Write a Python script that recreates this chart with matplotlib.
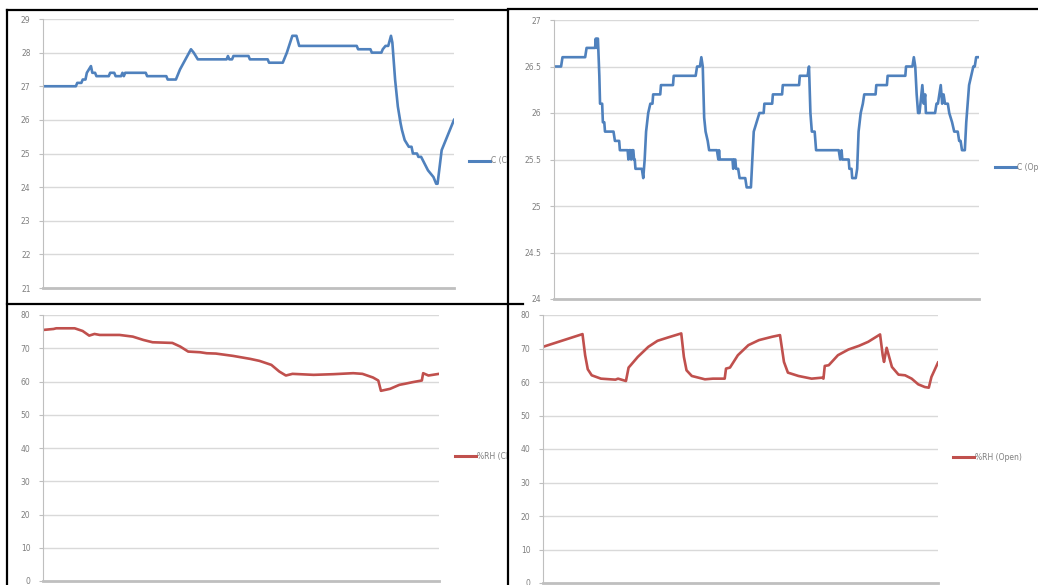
# Four Excel-style sensor panels: temperature and %RH, closed vs open

import matplotlib
matplotlib.use('Agg')
import matplotlib.pyplot as plt
from matplotlib.lines import Line2D
from matplotlib.transforms import Bbox, TransformedBbox

# ---- data (sample index, reading) ----
t_closed_idx = [0, 24, 25, 28, 29, 31, 32, 35, 36, 38, 39, 48, 49, 52, 53, 57, 58, 59, 60, 75,
                76, 90, 91, 97, 100, 104, 108, 110, 113, 134, 135, 136, 138, 139, 150, 151,
                164, 165, 175, 178, 182, 185, 187, 229, 230, 239, 240, 247, 248, 250, 252,
                254, 255, 257, 259, 261, 262, 264, 267, 269, 270, 273, 274, 276, 281, 285,
                286, 287, 288, 291, 295, 300]
t_closed = [27.0, 27.0, 27.1, 27.1, 27.2, 27.2, 27.4, 27.6, 27.4, 27.4, 27.3, 27.3, 27.4, 27.4,
            27.3, 27.3, 27.4, 27.3, 27.4, 27.4, 27.3, 27.3, 27.2, 27.2, 27.5, 27.8, 28.1, 28.0,
            27.8, 27.8, 27.9, 27.8, 27.8, 27.9, 27.9, 27.8, 27.8, 27.7, 27.7, 28.0, 28.5, 28.5,
            28.2, 28.2, 28.1, 28.1, 28.0, 28.0, 28.1, 28.2, 28.2, 28.5, 28.3, 27.2, 26.4, 25.9,
            25.7, 25.4, 25.2, 25.2, 25.0, 25.0, 24.9, 24.9, 24.5, 24.3, 24.2, 24.1, 24.1, 25.1,
            25.5, 26.0]

t_open_idx = [0, 5, 6, 22, 23, 29, 29.5, 30, 30.5, 31, 32, 32.5, 34, 34.5, 35.5, 36, 42, 43, 46,
              46.5, 52, 52.5, 53, 54, 54.5, 55, 56, 56.5, 57, 57.5, 62, 63, 64, 65, 66.5, 68,
              69.5, 70, 75, 75.5, 84, 84.5, 100, 101, 103, 104, 105, 106, 107, 108.5, 109.5,
              115, 116, 116.5, 117, 126, 126.5, 127, 128, 128.5, 130, 131, 135, 136, 139, 140,
              141, 143, 145, 148, 148.5, 154, 154.5, 161, 161.5, 173, 173.5, 179, 180, 181,
              182, 184, 185, 201, 202, 203, 203.5, 208, 208.5, 210, 210.5, 213, 214, 215,
              216.5, 218, 219, 227, 227.5, 235, 235.5, 248, 248.5, 253, 254, 255, 256, 257,
              258, 260, 261, 262, 262.5, 269, 270, 271, 273, 274, 275, 276, 278, 279, 281,
              282.5, 285, 286, 287, 288, 290, 291, 293, 294.5, 296, 297, 298, 300]
t_open = [26.5, 26.5, 26.6, 26.6, 26.7, 26.7, 26.8, 26.7, 26.8, 26.8, 26.4, 26.1, 26.1, 25.9,
          25.9, 25.8, 25.8, 25.7, 25.7, 25.6, 25.6, 25.5, 25.6, 25.6, 25.5, 25.6, 25.6, 25.5,
          25.5, 25.4, 25.4, 25.3, 25.5, 25.8, 26.0, 26.1, 26.1, 26.2, 26.2, 26.3, 26.3, 26.4,
          26.4, 26.5, 26.5, 26.6, 26.5, 25.95, 25.8, 25.7, 25.6, 25.6, 25.5, 25.6, 25.5, 25.5,
          25.4, 25.5, 25.5, 25.4, 25.4, 25.3, 25.3, 25.2, 25.2, 25.5, 25.8, 25.9, 26.0, 26.0,
          26.1, 26.1, 26.2, 26.2, 26.3, 26.3, 26.4, 26.4, 26.5, 26.0, 25.8, 25.8, 25.6, 25.6,
          25.5, 25.6, 25.5, 25.5, 25.4, 25.4, 25.3, 25.3, 25.4, 25.8, 26.0, 26.1, 26.2, 26.2,
          26.3, 26.3, 26.4, 26.4, 26.5, 26.5, 26.6, 26.5, 26.2, 26.0, 26.0, 26.3, 26.1, 26.2,
          26.0, 26.0, 26.1, 26.1, 26.3, 26.1, 26.2, 26.1, 26.1, 26.0, 25.9, 25.8, 25.8, 25.7,
          25.7, 25.6, 25.6, 25.9, 26.3, 26.4, 26.5, 26.5, 26.6, 26.6]

rh_closed_idx = [0, 8, 10, 24, 30, 35, 39, 43, 58, 68, 76, 83, 98, 104, 110, 119, 124, 131, 144,
                 157, 164, 173, 179, 184, 189, 205, 220, 235, 242, 250, 254, 256, 263, 270,
                 274, 280, 287, 288, 292, 300]
rh_closed = [75.5, 75.8, 76.0, 76.0, 75.2, 73.8, 74.3, 74.0, 74.0, 73.5, 72.5, 71.8, 71.6, 70.5,
             69.0, 68.8, 68.5, 68.4, 67.7, 66.8, 66.2, 65.0, 63.0, 61.8, 62.3, 62.0, 62.2, 62.5,
             62.3, 61.2, 60.3, 57.2, 57.8, 59.0, 59.3, 59.8, 60.3, 62.5, 61.8, 62.3]

rh_open_idx = [0, 30, 32, 34, 37, 44, 55, 57, 63, 65, 67, 72, 80, 87, 95, 105, 107, 109, 113,
               123, 129, 138, 139, 142, 148, 156, 164, 174, 180, 183, 186, 194, 204, 212, 213,
               214, 217, 224, 232, 240, 247, 256, 258, 259, 261, 265, 270, 275, 280, 285, 290,
               293, 295, 300]
rh_open = [70.5, 74.3, 68.0, 63.8, 62.0, 61.0, 60.7, 61.0, 60.3, 64.3, 65.2, 67.5, 70.5, 72.3,
           73.3, 74.5, 67.5, 63.5, 61.8, 60.8, 61.0, 61.0, 64.0, 64.3, 68.0, 71.0, 72.5, 73.5,
           74.0, 66.0, 62.8, 61.8, 61.0, 61.3, 61.0, 64.8, 65.0, 68.0, 69.7, 70.8, 72.0, 74.2,
           68.0, 66.0, 70.2, 64.5, 62.2, 62.0, 61.0, 59.3, 58.5, 58.3, 61.5, 65.8]

W, H = 1038, 585
fig = plt.figure(figsize=(W / 100, H / 100), dpi=100)
fig.patch.set_facecolor('white')

blue = '#4F81BD'
red = '#C0504D'
grid_c = '#D9D9D9'
axis_c = '#BFBFBF'
lab_c = '#7F7F7F'


def px_axes(x0, y0, x1, y1):
    # pixel box (top-left origin) -> figure axes
    return fig.add_axes([x0 / W, 1 - y1 / H, (x1 - x0) / W, (y1 - y0) / H])


def style(ax, ylim, yticks, ylabels):
    ax.set_xlim(0, 300)
    ax.set_ylim(*ylim)
    ax.set_yticks(yticks)
    ax.set_yticklabels(ylabels)
    ax.set_xticks([])
    ax.grid(axis='y', color=grid_c, linewidth=1.0)
    ax.set_axisbelow(True)
    for s in ['top', 'right']:
        ax.spines[s].set_visible(False)
    ax.spines['left'].set_color(axis_c)
    ax.spines['left'].set_linewidth(0.8)
    ax.spines['bottom'].set_color(axis_c)
    ax.spines['bottom'].set_linewidth(2.0)
    ax.tick_params(axis='y', colors=axis_c, labelcolor=lab_c, labelsize=5.5,
                   length=3, width=0.8, pad=6)
    for lab in ax.get_yticklabels():
        lab.set_fontfamily('DejaVu Sans')


def legend(x0, y, color, label, clip_x):
    fig.add_artist(Line2D([x0 / W, (x0 + 21) / W], [1 - y / H, 1 - y / H],
                          transform=fig.transFigure, color=color, linewidth=2.2))
    t = fig.text((x0 + 22) / W, 1 - y / H, label, color=lab_c, fontsize=5.5,
                 va='center', ha='left')
    t.set_clip_box(TransformedBbox(Bbox([[0, 0], [clip_x / W, 1]]), fig.transFigure))
    t.set_clip_on(True)


# top-left: temperature, closed
ax1 = px_axes(43, 19, 454, 288)
ax1.plot(t_closed_idx, t_closed, color=blue, linewidth=1.9)
style(ax1, (21, 29), range(21, 30), [str(v) for v in range(21, 30)])
legend(469, 161, blue, 'C (Closed)', 507)

# top-right: temperature, open
ax2 = px_axes(554, 20, 979, 299)
ax2.plot(t_open_idx, t_open, color=blue, linewidth=1.9)
yt = [24, 24.5, 25, 25.5, 26, 26.5, 27]
style(ax2, (24, 27), yt, ['24', '24.5', '25', '25.5', '26', '26.5', '27'])
legend(995, 167, blue, 'C (Open)', 1038)

# bottom-left: humidity, closed
ax3 = px_axes(43, 315, 439, 581)
ax3.plot(rh_closed_idx, rh_closed, color=red, linewidth=1.9)
style(ax3, (0, 80), range(0, 81, 10), [str(v) for v in range(0, 81, 10)])
legend(455, 456, red, '%RH (Closed)', 507)

# bottom-right: humidity, open
ax4 = px_axes(543, 315, 938, 583)
ax4.plot(rh_open_idx, rh_open, color=red, linewidth=1.9)
style(ax4, (0, 80), range(0, 81, 10), [str(v) for v in range(0, 81, 10)])
legend(953, 457, red, '%RH (Open)', 1038)

# black frame lines from the pasted screenshots
frame = [((7, 10), (508, 10)), ((508, 9), (1038, 9)), ((7, 10), (7, 585)),
         ((508, 10), (508, 585)), ((7, 304), (523, 304))]
for (xa, ya), (xb, yb) in frame:
    fig.add_artist(Line2D([xa / W, xb / W], [1 - ya / H, 1 - yb / H],
                          transform=fig.transFigure, color='black', linewidth=1.6))

fig.savefig('out.png', dpi=100)
